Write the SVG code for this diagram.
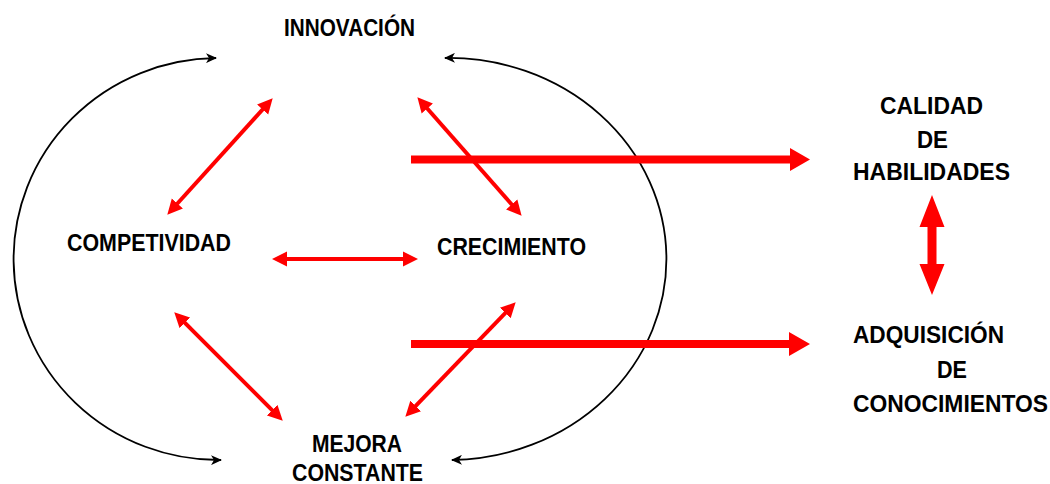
<svg xmlns="http://www.w3.org/2000/svg" width="1050" height="484" viewBox="0 0 1050 484">
<style>
.t{font-family:"Liberation Sans",Arial,sans-serif;font-weight:bold;font-size:23px;fill:#000}
.arc{fill:none;stroke:#000;stroke-width:1.8}
.rl{fill:none;stroke:#ff0000;stroke-width:4}
.rb{fill:#ff0000;stroke:none}
</style>
<defs>
<marker id="bh" markerUnits="userSpaceOnUse" markerWidth="12" markerHeight="10" refX="10" refY="5" orient="auto-start-reverse" viewBox="0 0 12 10">
<path d="M0,0 L11,5 L0,10 L3,5 Z" fill="#000"/>
</marker>
<marker id="rh" markerUnits="userSpaceOnUse" markerWidth="16" markerHeight="16" refX="8" refY="7.5" orient="auto-start-reverse" viewBox="0 0 16 15">
<path d="M0,0 L15,7.5 L0,15 Z" fill="#ff0000"/>
</marker>
</defs>
<g id="connectors">
<path class="arc" d="M216,58 A205 201 0 0 0 221,460" marker-start="url(#bh)" marker-end="url(#bh)"/>
<path class="arc" d="M445,58 A218 201 0 0 1 452,460" marker-start="url(#bh)" marker-end="url(#bh)"/>
<line class="rl" x1="268" y1="103.5" x2="172" y2="209.5" marker-start="url(#rh)" marker-end="url(#rh)"/>
<line class="rl" x1="422" y1="102.5" x2="517" y2="210.5" marker-start="url(#rh)" marker-end="url(#rh)"/>
<line class="rl" x1="279" y1="259" x2="411" y2="259" marker-start="url(#rh)" marker-end="url(#rh)"/>
<line class="rl" x1="179.2" y1="317.2" x2="277.8" y2="415.8" marker-start="url(#rh)" marker-end="url(#rh)"/>
<line class="rl" x1="510.8" y1="307.3" x2="410.2" y2="411.7" marker-start="url(#rh)" marker-end="url(#rh)"/>
<path class="rb" d="M411,155.5 L790,155.5 L790,148 L810,159.5 L790,171 L790,163.5 L411,163.5 Z"/>
<path class="rb" d="M411,340 L789,340 L789,332 L810,344 L789,356 L789,348 L411,348 Z"/>
<path class="rb" d="M932,195 L944.5,227 L936.5,227 L936.5,264 L944.5,264 L932,295 L919.5,264 L927.5,264 L927.5,227 L919.5,227 Z"/>
</g>
<g id="innovacion"><text class="t" x="284" y="36" textLength="131" lengthAdjust="spacingAndGlyphs">INNOVACIÓN</text></g>
<g id="competividad"><text class="t" x="67" y="251" textLength="164" lengthAdjust="spacingAndGlyphs">COMPETIVIDAD</text></g>
<g id="crecimiento"><text class="t" x="437" y="255" textLength="149" lengthAdjust="spacingAndGlyphs">CRECIMIENTO</text></g>
<g id="mejora"><text class="t" x="312" y="452" textLength="90" lengthAdjust="spacingAndGlyphs">MEJORA</text><text class="t" x="292" y="481" textLength="131" lengthAdjust="spacingAndGlyphs">CONSTANTE</text></g>
<g id="calidad"><text class="t" x="880" y="114" textLength="103" lengthAdjust="spacingAndGlyphs">CALIDAD</text><text class="t" x="917" y="148" textLength="31" lengthAdjust="spacingAndGlyphs">DE</text><text class="t" x="853" y="180" textLength="157" lengthAdjust="spacingAndGlyphs">HABILIDADES</text></g>
<g id="adquisicion"><text class="t" x="853" y="343" textLength="151" lengthAdjust="spacingAndGlyphs">ADQUISICIÓN</text><text class="t" x="937" y="378" textLength="30" lengthAdjust="spacingAndGlyphs">DE</text><text class="t" x="853" y="412" textLength="195" lengthAdjust="spacingAndGlyphs">CONOCIMIENTOS</text></g>
</svg>
